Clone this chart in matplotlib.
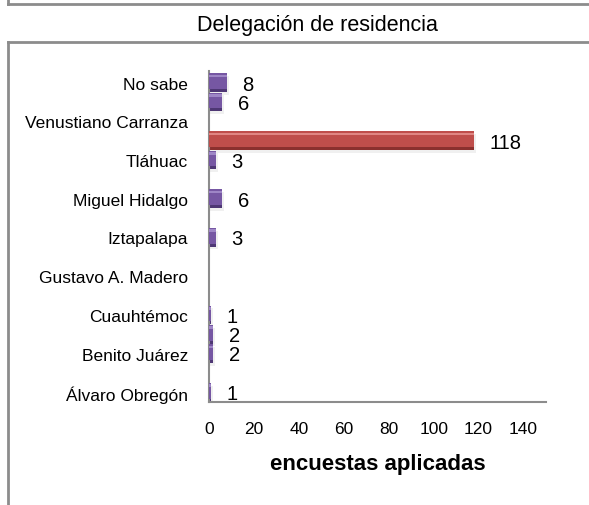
import numpy as np
import matplotlib
matplotlib.use("Agg")
import matplotlib.pyplot as plt
from matplotlib.lines import Line2D

plt.rcParams['font.family'] = ['Liberation Sans', 'DejaVu Sans']

# ---- data (bottom to top) ----
categories = ['Álvaro Obregón', 'Benito Juárez', 'Cuauhtémoc', 'Gustavo A. Madero',
              'Iztapalapa', 'Miguel Hidalgo', 'Tláhuac', 'Venustiano Carranza', 'No sabe']
series_a = [1, 2, 1, np.nan, 3, 6, 3, np.nan, 8]          # drawn on the category
series_b = [np.nan, 2, np.nan, np.nan, np.nan, np.nan, 118, 6, np.nan]  # drawn half a slot above
x_ticks = [0, 20, 40, 60, 80, 100, 120, 140]
title = 'Delegación de residencia'
xlabel = 'encuestas aplicadas'

W, H, DPI = 589, 506, 100
fig = plt.figure(figsize=(W / DPI, H / DPI), dpi=DPI)
ax = fig.add_axes([209 / W, 1 - 403 / H, (546 - 209) / W, (403 - 72) / H])

purple = ('#4E3774', '#7657A3', '#9E86C6')
red = ('#8A302E', '#BF4E4B', '#E08683')

vmax = np.nanmax(series_a + series_b)
bh = 0.48

def draw(ys, vals):
    for y, v in zip(ys, vals):
        if np.isnan(v):
            continue
        dark, base, light = red if v == vmax else purple
        ax.barh(y - 0.07, v + 0.8, height=bh, left=0, color='#000000', alpha=0.06, zorder=1, linewidth=0)
        ax.barh(y, v, height=bh, left=0, color=dark, zorder=2, linewidth=0)
        ax.barh(y + bh * 0.08, v, height=bh * 0.84, left=0, color=base, zorder=3, linewidth=0)
        ax.barh(y + bh * 0.36, v, height=bh * 0.14, left=0, color=light, zorder=4, linewidth=0)
        ax.annotate(f'{int(v)}', xy=(v, y), xytext=(11, -1), textcoords='offset points',
                    ha='left', va='center', fontsize=14.5, color='black', zorder=5)

pos = np.arange(len(categories))
draw(pos, series_a)
draw(pos + 0.5, series_b)

ax.set_xlim(0, 150)
ax.set_ylim(-0.25, 8.3)
ax.set_xticks(x_ticks)
ax.set_xticklabels([str(t) for t in x_ticks], fontsize=12.5)
ax.set_yticks(pos)
ax.set_yticklabels(categories, fontsize=12.5)
ax.tick_params(axis='x', length=0, pad=14)
ax.tick_params(axis='y', length=0, pad=15)
for s in ('top', 'right'):
    ax.spines[s].set_visible(False)
for s in ('left', 'bottom'):
    ax.spines[s].set_color('#8C8C8C')
    ax.spines[s].set_linewidth(1.5)
ax.set_xlabel(xlabel, fontsize=16, fontweight='bold', labelpad=12)

fig.text(317 / W, 1 - 26 / H, title, ha='center', va='center', fontsize=15.5)

# frame lines
gray = '#8C8C8C'
def fl(x0, y0, x1, y1):
    fig.add_artist(Line2D([x0 / W, x1 / W], [1 - y0 / H, 1 - y1 / H], color=gray, lw=2))
fl(8, 5, W, 5)
fl(8, 0, 8, 5)
fl(8, 43, W, 43)
fl(8, 43, 8, H)

fig.savefig('out.png', dpi=DPI)
